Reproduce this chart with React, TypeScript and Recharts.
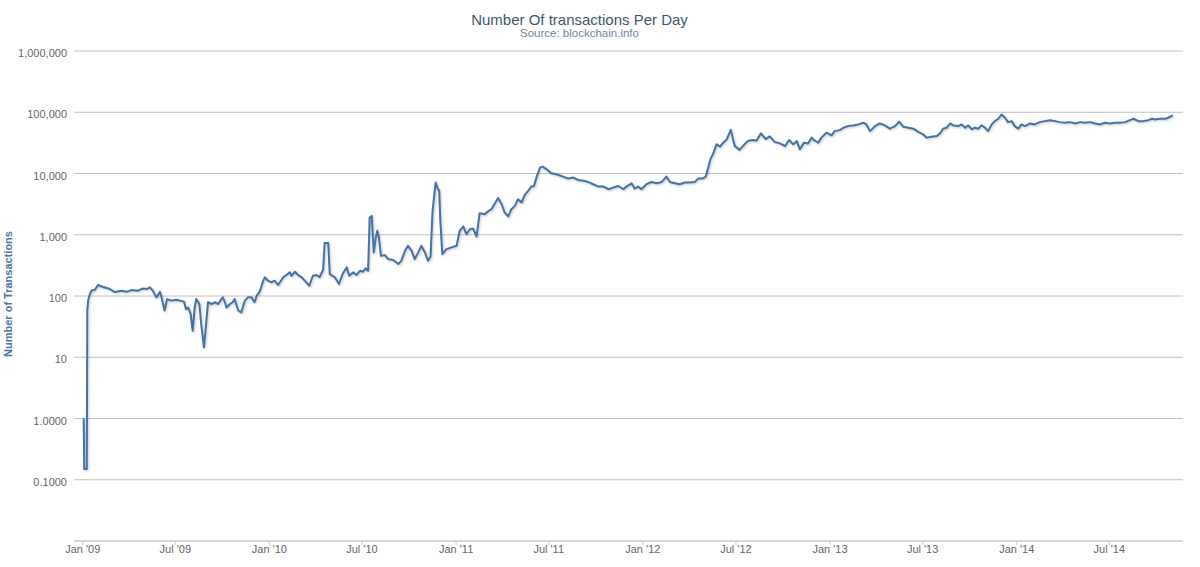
import { LineChart, Line, XAxis, YAxis, CartesianGrid } from 'recharts';

const dates = [
  // 2009
  "2009-01-03", "2009-01-04", "2009-01-09", "2009-01-10", "2009-01-12", "2009-01-15", "2009-01-18", "2009-01-25", "2009-01-31",
  "2009-02-10", "2009-02-23", "2009-03-05", "2009-03-18", "2009-03-28", "2009-04-06", "2009-04-19", "2009-04-29",
  "2009-05-06", "2009-05-12", "2009-05-18", "2009-05-25", "2009-06-01", "2009-06-04", "2009-06-10", "2009-06-15", "2009-06-24",
  "2009-07-03", "2009-07-10", "2009-07-18", "2009-07-22", "2009-07-26", "2009-07-31", "2009-08-04", "2009-08-08", "2009-08-11",
  "2009-08-17", "2009-08-21", "2009-08-26", "2009-08-30", "2009-09-03", "2009-09-10", "2009-09-16", "2009-09-23", "2009-09-29",
  "2009-10-02", "2009-10-06", "2009-10-09", "2009-10-16", "2009-10-21", "2009-10-25", "2009-11-01", "2009-11-07", "2009-11-14",
  "2009-11-20", "2009-11-27", "2009-12-03", "2009-12-07", "2009-12-13", "2009-12-20", "2009-12-23", "2009-12-29",
  // 2010
  "2010-01-05", "2010-01-11", "2010-01-18", "2010-01-28", "2010-02-03", "2010-02-10", "2010-02-13", "2010-02-20", "2010-02-26",
  "2010-03-05", "2010-03-11", "2010-03-20", "2010-03-27", "2010-04-03", "2010-04-09", "2010-04-16", "2010-04-19", "2010-04-26",
  "2010-04-29", "2010-05-09", "2010-05-17", "2010-05-24", "2010-06-01", "2010-06-06", "2010-06-14", "2010-06-20", "2010-06-27",
  "2010-07-03", "2010-07-08", "2010-07-13", "2010-07-16", "2010-07-20", "2010-07-24", "2010-07-28", "2010-07-31", "2010-08-03",
  "2010-08-07", "2010-08-15", "2010-08-21", "2010-08-31", "2010-09-10", "2010-09-16", "2010-09-23", "2010-09-29", "2010-10-06",
  "2010-10-12", "2010-10-19", "2010-10-25", "2010-11-01", "2010-11-07", "2010-11-12", "2010-11-16", "2010-11-22", "2010-11-25",
  "2010-11-29", "2010-12-01", "2010-12-05", "2010-12-13", "2010-12-23",
  // 2011
  "2011-01-02", "2011-01-08", "2011-01-15", "2011-01-21", "2011-01-28", "2011-02-03", "2011-02-10", "2011-02-16", "2011-02-26",
  "2011-03-05", "2011-03-11", "2011-03-18", "2011-03-24", "2011-03-31", "2011-04-06", "2011-04-13", "2011-04-19", "2011-04-26",
  "2011-05-02", "2011-05-09", "2011-05-15", "2011-05-24", "2011-05-28", "2011-06-02", "2011-06-07", "2011-06-14", "2011-06-19",
  "2011-06-27", "2011-07-06", "2011-07-16", "2011-07-29", "2011-08-08", "2011-08-18", "2011-08-28", "2011-09-10", "2011-09-19",
  "2011-09-26", "2011-10-06", "2011-10-16", "2011-10-26", "2011-11-04", "2011-11-14", "2011-11-24", "2011-11-30", "2011-12-10",
  "2011-12-16", "2011-12-23", "2011-12-29",
  // 2012
  "2012-01-08", "2012-01-18", "2012-01-28", "2012-02-07", "2012-02-16", "2012-02-23", "2012-03-04", "2012-03-13", "2012-03-23",
  "2012-04-02", "2012-04-12", "2012-04-18", "2012-04-27", "2012-05-03", "2012-05-08", "2012-05-12", "2012-05-17", "2012-05-24",
  "2012-05-31", "2012-06-06", "2012-06-13", "2012-06-21", "2012-06-26", "2012-06-29", "2012-07-08", "2012-07-16", "2012-07-25",
  "2012-08-04", "2012-08-10", "2012-08-19", "2012-08-28", "2012-09-05", "2012-09-15", "2012-09-25", "2012-10-05", "2012-10-13",
  "2012-10-21", "2012-10-28", "2012-11-03", "2012-11-11", "2012-11-19", "2012-11-26", "2012-12-02", "2012-12-09", "2012-12-15",
  "2012-12-25",
  // 2013
  "2013-01-04", "2013-01-10", "2013-01-20", "2013-01-27", "2013-02-05", "2013-02-15", "2013-02-25", "2013-03-07", "2013-03-13",
  "2013-03-20", "2013-03-30", "2013-04-08", "2013-04-18", "2013-04-28", "2013-05-08", "2013-05-16", "2013-05-24", "2013-06-03",
  "2013-06-13", "2013-06-23", "2013-07-02", "2013-07-09", "2013-07-19", "2013-07-29", "2013-08-05", "2013-08-10", "2013-08-17",
  "2013-08-24", "2013-08-30", "2013-09-09", "2013-09-15", "2013-09-22", "2013-09-28", "2013-10-05", "2013-10-11", "2013-10-18",
  "2013-10-24", "2013-10-31", "2013-11-06", "2013-11-13", "2013-11-19", "2013-11-26", "2013-12-02", "2013-12-09", "2013-12-15",
  "2013-12-22", "2013-12-28",
  // 2014
  "2014-01-04", "2014-01-10", "2014-01-17", "2014-01-27", "2014-02-05", "2014-02-15", "2014-02-25", "2014-03-07", "2014-03-17",
  "2014-03-26", "2014-04-05", "2014-04-15", "2014-04-25", "2014-05-05", "2014-05-14", "2014-05-24", "2014-06-03", "2014-06-13",
  "2014-06-22", "2014-07-02", "2014-07-12", "2014-07-22", "2014-08-01", "2014-08-10", "2014-08-17", "2014-08-27", "2014-09-05",
  "2014-09-15", "2014-09-22", "2014-09-28", "2014-10-08", "2014-10-18", "2014-10-24", "2014-11-02",
];

const transactions = [
  // 2009
  1, 0.15, 0.15, 60, 88, 108, 122, 127, 151,
  140, 130, 116, 122, 117, 125, 122, 133,
  130, 139, 122, 95, 117, 96, 58, 89, 84,
  87, 84, 81, 61, 65, 51, 27, 65, 89,
  74, 33, 14.5, 33, 79, 74, 79, 74, 89,
  95, 79, 65, 74, 79, 89, 58, 54, 84,
  95, 95, 79, 101, 118, 178, 202, 178,
  // 2010
  167, 178, 151, 202, 220, 243, 214, 249, 220,
  202, 178, 147, 214, 220, 202, 268, 730, 730,
  228, 202, 157, 228, 293, 214, 243, 220, 258,
  249, 282, 258, 1910, 2030, 515, 904, 1160, 904,
  453, 465, 400, 386, 332, 376, 547, 660, 547,
  400, 515, 660, 515, 376, 443, 2450, 7110, 5890,
  5190, 1800, 483, 583, 621,
  // 2011
  660, 1160, 1365, 1020, 1233, 1270, 937, 2250, 2165,
  2440, 2610, 3270, 3970, 3150, 2300, 1990, 2610, 2960,
  3800, 3360, 4420, 5530, 6120, 6200, 8570, 12470, 12950,
  11700, 10070, 9700, 8900, 8260, 8570, 7830, 7550, 7110,
  6670, 6120, 6120, 5530, 5890, 6250, 5530, 6120, 6920,
  5680, 6120, 5530,
  // 2012
  6670, 7280, 6920, 7280, 8900, 7280, 6920, 6670, 7110,
  7110, 7280, 8260, 8260, 8900, 12470, 17000, 20500, 29900,
  27400, 31900, 36000, 51500, 34100, 28000, 24300, 28800, 34400,
  35200, 34300, 45200, 36500, 40400, 32600, 31000, 28000, 35200,
  29900, 33800, 24800, 31900, 31000, 38500, 34300, 31900, 38500,
  46400,
  // 2013
  41900, 49200, 51100, 55900, 59400, 61000, 63300, 67400, 63300,
  49200, 59400, 65700, 61000, 53900, 59400, 70000, 58100, 55900,
  53900, 47400, 43500, 38500, 39900, 40800, 46400, 53900, 55900,
  65700, 61000, 59400, 63300, 55900, 61000, 52500, 55900, 53900,
  61000, 55900, 49200, 63300, 71600, 78400, 92000, 81300, 69000,
  71600, 59400,
  // 2014
  53900, 63300, 59400, 65700, 63300, 69000, 71600, 74300, 71600,
  69000, 67400, 69000, 65700, 69000, 67400, 69000, 65700, 63300,
  67400, 65700, 67400, 67400, 69000, 74300, 78400, 71600, 71600,
  74300, 78400, 76400, 78400, 78400, 81300, 88700,
];

const xTickDates = [
  "2009-01-01", "2009-07-01", "2010-01-01", "2010-07-01", "2011-01-01", "2011-07-01",
  "2012-01-01", "2012-07-01", "2013-01-01", "2013-07-01", "2014-01-01", "2014-07-01",
];
const xTickLabels = [
  "Jan '09", "Jul '09", "Jan '10", "Jul '10", "Jan '11", "Jul '11",
  "Jan '12", "Jul '12", "Jan '13", "Jul '13", "Jan '14", "Jul '14",
];
const yTicks = [0.1, 1, 10, 100, 1000, 10000, 100000, 1000000];

const data = dates.map((d, i) => ({ t: Date.parse(d), v: transactions[i] }));
const xTicks = xTickDates.map((d) => Date.parse(d));
const xDomain = [Date.parse("2008-12-15"), Date.parse("2014-11-22")];

const fontFamily = '"Liberation Sans", Arial, sans-serif';

function formatY(v: number) {
  if (v >= 10) return v.toLocaleString('en-US');
  return v.toFixed(4);
}

function YTick(props: any) {
  const { x, y, payload } = props;
  return (
    <text x={x} y={y} dy={6} textAnchor="end" fill="#666" fontSize={11} fontFamily={fontFamily}>
      {formatY(payload.value)}
    </text>
  );
}

function XTick(props: any) {
  const { x, y, payload } = props;
  const idx = xTicks.indexOf(payload.value);
  return (
    <text x={x} y={y} dy={8} textAnchor="middle" fill="#666" fontSize={11} fontFamily={fontFamily}>
      {idx >= 0 ? xTickLabels[idx] : ''}
    </text>
  );
}

function App() {
  return (
    <div style={{ position: 'absolute', left: 0, top: 0, width: 1200, height: 567, background: '#fff' }}>
      <style>{`.tx-line .recharts-line-curve { filter: drop-shadow(1px 1px 1px rgba(0,0,0,0.22)); }`}</style>
      <LineChart
        width={1200}
        height={567}
        data={data}
        margin={{ top: 51, right: 17, bottom: 0, left: 0 }}
        style={{ fontFamily }}
      >
        <CartesianGrid vertical={false} stroke="#C0C0C0" />
        <XAxis
          dataKey="t"
          type="number"
          scale="linear"
          domain={xDomain}
          ticks={xTicks}
          interval={0}
          allowDataOverflow
          height={26}
          stroke="#C0D0E0"
          tickLine={{ stroke: '#C0D0E0' }}
          tickSize={4}
          tickMargin={0}
          tick={<XTick />}
        />
        <YAxis
          type="number"
          scale="log"
          domain={[0.01, 1000000]}
          ticks={yTicks}
          interval={0}
          allowDataOverflow
          width={74}
          axisLine={false}
          tickLine={false}
          tickSize={0}
          tickMargin={7}
          tick={<YTick />}
        />
        <Line
          className="tx-line"
          type="linear"
          dataKey="v"
          stroke="#4572A7"
          strokeWidth={2}
          strokeLinejoin="round"
          dot={false}
          isAnimationActive={false}
        />
      </LineChart>
      <svg width={1200} height={567} style={{ position: 'absolute', left: 0, top: 0, pointerEvents: 'none' }}>
        <text x={579.5} y={25} textAnchor="middle" fill="#3E576F" fontSize={15} fontFamily={fontFamily}>
          Number Of transactions Per Day
        </text>
        <text x={579.5} y={37} textAnchor="middle" fill="#6D869F" fontSize={11.5} fontFamily={fontFamily}>
          Source: blockchain.info
        </text>
        <text
          transform="translate(11.5,294) rotate(-90)"
          textAnchor="middle"
          fill="#4D759E"
          fontSize={11}
          fontWeight="bold"
          fontFamily={fontFamily}
        >
          Number of Transactions
        </text>
      </svg>
    </div>
  );
}

export default App;
